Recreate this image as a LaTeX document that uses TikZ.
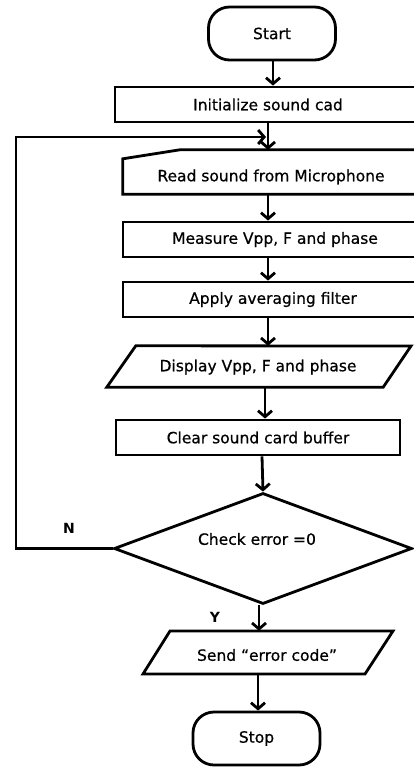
\documentclass[tikz,border=0pt]{standalone}
\usepackage{fontspec}
\setmainfont{DejaVu Sans}
\newfontfamily\boxfont[FakeBold=0.6]{DejaVu Sans}
\usetikzlibrary{arrows.meta,shapes.geometric,calc}

\tikzset{
  flow/.style={draw=black, line width=2.8pt, line join=miter},
  box/.style={flow, rectangle, inner sep=0pt, minimum height=35pt},
  term/.style={flow, rectangle, rounded corners=21pt, inner sep=0pt,
               minimum width=127pt, minimum height=53pt, font=\boxfont\fontsize{15.5}{18}\selectfont},
  txt/.style={inner sep=0pt, font=\boxfont\fontsize{15.5}{18}\selectfont},
  yn/.style={inner sep=0pt, font=\fontsize{14}{16}\selectfont\bfseries},
  arr/.style={line width=2.8pt, -{Straight Barb[length=6pt,width=14pt,line width=2.8pt]}}
}

\begin{document}
\begin{tikzpicture}[x=1pt,y=-1pt]
  \useasboundingbox (0,0) rectangle (414,767);
  \clip (0,0) rectangle (414,767);

  % terminals
  \node[term] (start) at (272,33.5) {Start};
  \node[term] (stop) at (256.5,738.5) {Stop};

  % process boxes (their right ends run past the edge)
  \node[box, minimum width=306pt, txt, draw] (init) at (268,104.5) {Initialize sound cad};

  % manual input: short slanted top-left corner
  \node[inner sep=0pt, minimum width=302pt, minimum height=44pt] (read) at (274,172) {};
  \draw[flow] ([yshift=-9pt]read.north west) -- ([xshift=57pt]read.north west)
     -- (read.north east) -- (read.south east) -- (read.south west) -- cycle;
  \node[txt] (readtxt) at (271,177) {Read sound from Microphone};

  \node[box, minimum width=304pt, txt, draw] (meas) at (275,239.5) {Measure Vpp, F and phase};
  \node[box, minimum width=300pt, txt, draw] (filt) at (273,299.5) {Apply averaging filter};

  % data output: parallelogram
  \node[inner sep=0pt, minimum width=304pt, minimum height=41pt] (disp) at (259,366.5) {};
  \draw[flow] ([xshift=29pt]disp.south west |- disp.north) -- (411,346)
     -- ([xshift=-28pt]disp.north east |- disp.south) -- (disp.south west) -- cycle;
  \node[txt] (disptxt) at (258,367) {Display Vpp, F and phase};

  \node[box, minimum width=284pt, txt, draw] (clr) at (258,437.5) {Clear sound card buffer};

  % decision
  \node[flow, diamond, inner sep=0pt, minimum width=298pt, minimum height=111pt] (dec) at (263,548.5) {};
  \node[txt] (dectxt) at (257,539) {Check error =0};

  % error output: parallelogram
  \node[inner sep=0pt, minimum width=250pt, minimum height=43pt] (send) at (268,652.5) {};
  \draw[flow] (170,631) -- (393,631) -- (365,674) -- (143,674) -- cycle;
  \node[txt] (sendtxt) at (267,655) {Send “error code”};

  % branch labels
  \node[yn] (nlab) at (69,528) {N};
  \node[yn] (ylab) at (215,617) {Y};

  % vertical axes for the connectors
  \coordinate (a1) at (273,0);
  \coordinate (a2) at (268,0);
  \coordinate (a3) at (265,0);
  \coordinate (a4) at (262,0);
  \coordinate (a5) at (259,0);
  \coordinate (a6) at (258,0);

  % main flow
  \draw[arr] (a1 |- start.south) -- (a1 |- init.north);
  \draw[arr] (a2 |- init.south) -- (a2 |- read.north);
  \draw[arr] (a2 |- read.south) -- (a2 |- meas.north);
  \draw[arr] (a2 |- meas.south) -- (a2 |- filt.north);
  \draw[arr] (a2 |- filt.south) -- (a2 |- disp.north);
  \draw[arr] (a3 |- disp.south) -- (a3 |- clr.north);
  \draw[arr] (a4 |- clr.south) -- (dec.north);
  \draw[arr] (a5 |- dec.south) -- (a5 |- send.north);
  \draw[arr] (a6 |- send.south) -- (stop.north -| a6);

  % loop back on N
  \coordinate (lx) at (16,137);
  \coordinate (join) at (266,137);
  \draw[arr] (dec.west) -| (lx) -- (join);
\end{tikzpicture}
\end{document}
